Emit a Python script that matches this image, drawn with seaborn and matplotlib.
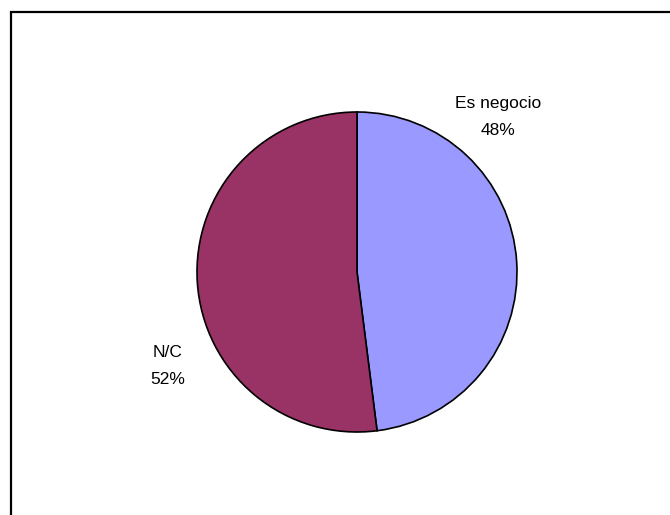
import matplotlib
matplotlib.use("Agg")
import matplotlib.pyplot as plt
import seaborn as sns

categories = ["Es negocio", "N/C"]
shares = [48, 52]
colors = ["#9999FF", "#993366"]

sns.set_theme(style="white")
plt.rcParams["font.family"] = ["Liberation Sans", "DejaVu Sans"]

W, H = 670, 515
fig = plt.figure(figsize=(W / 100, H / 100), dpi=100)
fig.patch.set_facecolor("white")

# chart border (top and left edges fall inside the canvas)
border = plt.Rectangle((11 / W, 0 - 0.05), 1.2, (H - 12) / H + 0.05,
                       transform=fig.transFigure, fill=False,
                       edgecolor="black", linewidth=1.6)
fig.add_artist(border)

cx, cy, r = 357, 272, 160
ax = fig.add_axes([(cx - r) / W, (H - cy - r) / H, 2 * r / W, 2 * r / H])
wedges, _ = ax.pie(shares, colors=colors, startangle=90, counterclock=False,
                   wedgeprops=dict(edgecolor="black", linewidth=1.2))
ax.set_aspect("equal")
ax.set_xlim(-1, 1)
ax.set_ylim(-1, 1)

labels = [f"{c}\n{s}%" for c, s in zip(categories, shares)]
label_pos = [(498, 117), (168, 366)]
for text, (x, y) in zip(labels, label_pos):
    fig.text(x / W, 1 - y / H, text, ha="center", va="center",
             fontsize=12.5, linespacing=1.95, color="black")

fig.savefig("out.png", dpi=100)
